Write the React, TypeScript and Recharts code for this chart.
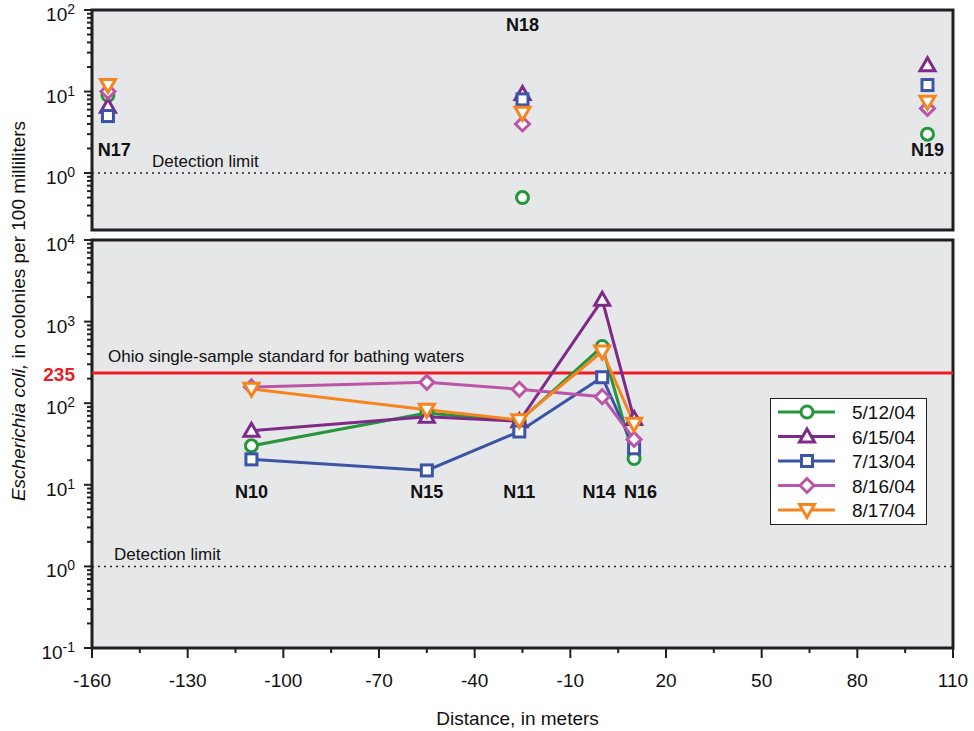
import React from 'react';
import {
  ComposedChart, Line, Scatter, XAxis, YAxis, ReferenceLine, ReferenceArea, ReferenceDot,
} from 'recharts';

// ---------- data ----------
const seriesNames = ['5/12/04', '6/15/04', '7/13/04', '8/16/04', '8/17/04'];
const seriesColors = ['#25963c', '#7f2a88', '#3b54a5', '#bc55a8', '#f6851f'];
const seriesMarkers = ['circle', 'up', 'square', 'diamond', 'down'];

// upper panel (stations N17, N18, N19)
const topStations = ['N17', 'N18', 'N19'];
const topDistance = [-155, -25, 102];
const top512 = [9, 0.5, 3];
const top615 = [6.5, 9.3, 21];
const top713 = [5, 8, 12];
const top816 = [10, 4, 6.2];
const top817 = [12, 5.5, 7.5];
const topLabelX = [-153, -25, 102];
const topLabelY = [1.9, 65, 1.93];

// lower panel (stations N10, N15, N11, N14, N16)
const botStations = ['N10', 'N15', 'N11', 'N14', 'N16'];
const botDistance = [-110, -55, -26, 0, 10];
const bot512 = [30, 76, 60, 495, 21];
const bot615 = [46, 68, 60, 1850, 64];
const bot713 = [20.5, 15, 45, 208, 28];
const bot816 = [158, 180, 148, 120, 36];
const bot817 = [150, 83, 62, 430, 56];
const botLabelX = [-110, -55, -26, -1, 12];
const botLabelY = [8.2, 8.2, 8.2, 8.2, 8.2];

const ohioStandard = 235;
const detectionLimit = 1;

const xMajorTicks = [-160, -130, -100, -70, -40, -10, 20, 50, 80, 110];
const xMinorTicks = [-145, -115, -85, -55, -25, 5, 35, 65, 95];

const FONT = '"Liberation Sans", Arial, Helvetica, sans-serif';
const BG = '#e6e7e8';
const FRAME = '#231f20';

const topValues = [top512, top615, top713, top816, top817];
const botValues = [bot512, bot615, bot713, bot816, bot817];

const makePts = (xs: number[], ys: number[]) => xs.map((x, i) => ({ x, y: ys[i] }));

function logTicks(minExp: number, maxExp: number) {
  const out: number[] = [];
  for (let e = minExp; e < maxExp; e++) {
    for (let m = 1; m <= 9; m++) {
      out.push(+(m * Math.pow(10, e)).toPrecision(6));
    }
  }
  out.push(Math.pow(10, maxExp));
  return out;
}

const topYTicks = [0.3, 0.4, 0.5, 0.6, 0.7, 0.8, 0.9, ...logTicks(0, 2)];
const botYTicks = [...logTicks(-1, 4), ohioStandard];

function isPow10(v: number) {
  const l = Math.log10(v);
  return Math.abs(l - Math.round(l)) < 1e-9;
}

// ---------- markers ----------
function Marker({ kind, cx, cy, color }: any) {
  if (cx == null || cy == null) return null;
  const common = { fill: '#fff', stroke: color, strokeWidth: 3 };
  switch (kind) {
    case 'circle':
      return <circle cx={cx} cy={cy} r={6} {...common} />;
    case 'up':
      return <polygon points={`${cx},${cy - 7.5} ${cx - 7.5},${cy + 5.5} ${cx + 7.5},${cy + 5.5}`} {...common} />;
    case 'down':
      return <polygon points={`${cx},${cy + 7.5} ${cx - 7.5},${cy - 5.5} ${cx + 7.5},${cy - 5.5}`} {...common} />;
    case 'square':
      return <rect x={cx - 5.5} y={cy - 5.5} width={11} height={11} {...common} />;
    case 'diamond':
      return <polygon points={`${cx},${cy - 7} ${cx + 7},${cy} ${cx},${cy + 7} ${cx - 7},${cy}`} {...common} />;
    default:
      return null;
  }
}

// ---------- ticks ----------
function YTick(props: any) {
  const { x, y, payload } = props;
  const v = payload.value;
  if (v === ohioStandard) {
    return (
      <text x={x - 17} y={y + 8} textAnchor="end" fill="#ed1c24" fontFamily={FONT} fontWeight="bold" fontSize={19}>
        {v}
      </text>
    );
  }
  const major = isPow10(v);
  const exp = Math.round(Math.log10(v));
  return (
    <g>
      <line x1={x - (major ? 8 : 5)} x2={x} y1={y} y2={y} stroke={FRAME} strokeWidth={2} />
      {major && (
        <text x={x - 17} y={y + 11} textAnchor="end" fill="#111" fontFamily={FONT} fontSize={19}>
          10
          <tspan fontSize={14} dy={-7}>{exp}</tspan>
        </text>
      )}
    </g>
  );
}

function XTick(props: any) {
  const { x, y, payload } = props;
  const v = payload.value;
  const major = xMajorTicks.includes(v);
  return (
    <g>
      <line x1={x} x2={x} y1={y} y2={y + (major ? 10 : 5)} stroke={FRAME} strokeWidth={2} />
      {major && (
        <text x={x} y={y + 39} textAnchor="middle" fill="#111" fontFamily={FONT} fontSize={19}>
          {v}
        </text>
      )}
    </g>
  );
}

const LineLabel = (dx: number, dy: number, text: string) => (props: any) => {
  const vb = props.viewBox || {};
  return (
    <text x={vb.x + dx} y={vb.y + dy} fill="#111" fontFamily={FONT} fontSize={17}>
      {text}
    </text>
  );
};

const StationLabel = (text: string) => (props: any) => (
  <text x={props.cx} y={props.cy + 6} textAnchor="middle" fontFamily={FONT} fontWeight="bold" fontSize={18} fill="#111">
    {text}
  </text>
);

const PLOT_W = 974;
const LEFT = 92;
const RIGHT = 21;

export default function App() {
  return (
    <div style={{ position: 'absolute', left: 0, top: 0, width: 974, height: 731, background: '#fff', fontFamily: FONT }}>
      {/* upper panel */}
      <div style={{ position: 'absolute', left: 0, top: 0 }}>
        <ComposedChart width={PLOT_W} height={240} margin={{ top: 10, right: RIGHT, bottom: 10, left: 0 }}>
          <XAxis dataKey="x" type="number" domain={[-160, 110]} hide allowDataOverflow />
          <YAxis
            dataKey="y" type="number" scale="log" domain={[0.2, 100]} allowDataOverflow width={LEFT}
            ticks={topYTicks} interval={0} tick={<YTick />} tickLine={false} axisLine={false}
            tickSize={0} tickMargin={0}
          />
          <ReferenceArea x1={-160} x2={110} y1={0.2} y2={100} fill={BG} fillOpacity={1} stroke={FRAME} strokeWidth={3} ifOverflow="visible" />
          <ReferenceLine y={detectionLimit} stroke="#222" strokeWidth={1.5} strokeDasharray="2 4" label={LineLabel(60, -6, 'Detection limit')} />
          {topStations.map((s, i) => (
            <ReferenceDot key={s} x={topLabelX[i]} y={topLabelY[i]} r={0} shape={StationLabel(s)} />
          ))}
          {seriesNames.map((name, si) => (
            <Scatter
              key={name}
              name={name}
              data={makePts(topDistance, topValues[si])}
              dataKey="y"
              isAnimationActive={false}
              shape={(p: any) => <Marker kind={seriesMarkers[si]} cx={p.cx} cy={p.cy} color={seriesColors[si]} />}
            />
          ))}
        </ComposedChart>
      </div>

      {/* lower panel */}
      <div style={{ position: 'absolute', left: 0, top: 220 }}>
        <ComposedChart width={PLOT_W} height={511} margin={{ top: 20, right: RIGHT, bottom: 0, left: 0 }}>
          <XAxis
            dataKey="x" type="number" domain={[-160, 110]} allowDataOverflow height={83}
            ticks={[...xMajorTicks, ...xMinorTicks].sort((a, b) => a - b)} interval={0}
            tick={<XTick />} tickLine={false} axisLine={false} tickSize={0} tickMargin={0}
            label={{ value: 'Distance, in meters', position: 'insideBottom', offset: 6, dx: -5, fontFamily: FONT, fontSize: 19, fill: '#111' }}
          />
          <YAxis
            dataKey="y" type="number" scale="log" domain={[0.1, 10000]} allowDataOverflow width={LEFT}
            ticks={botYTicks} interval={0} tick={<YTick />} tickLine={false} axisLine={false}
            tickSize={0} tickMargin={0}
          />
          <ReferenceArea x1={-160} x2={110} y1={0.1} y2={10000} fill={BG} fillOpacity={1} stroke={FRAME} strokeWidth={3} ifOverflow="visible" />
          <ReferenceLine y={detectionLimit} stroke="#222" strokeWidth={1.5} strokeDasharray="2 4" label={LineLabel(22, -6, 'Detection limit')} />
          <ReferenceLine y={ohioStandard} stroke="#ed1c24" strokeWidth={3} label={LineLabel(16, -11, 'Ohio single-sample standard for bathing waters')} />
          {botStations.map((s, i) => (
            <ReferenceDot key={s} x={botLabelX[i]} y={botLabelY[i]} r={0} shape={StationLabel(s)} />
          ))}
          {seriesNames.map((name, si) => (
            <Line
              key={name}
              name={name}
              data={makePts(botDistance, botValues[si])}
              dataKey="y"
              stroke={seriesColors[si]}
              strokeWidth={3}
              isAnimationActive={false}
              activeDot={false}
              dot={(p: any) => <Marker key={`${name}-${p.index}`} kind={seriesMarkers[si]} cx={p.cx} cy={p.cy} color={seriesColors[si]} />}
            />
          ))}
        </ComposedChart>
      </div>

      {/* y-axis title spanning both panels */}
      <svg style={{ position: 'absolute', left: 0, top: 0 }} width={40} height={731}>
        <text
          x={18} y={311} transform="rotate(-90 18 311)" textAnchor="middle" dominantBaseline="central"
          fontFamily={FONT} fontSize={19} fill="#111"
        >
          <tspan fontStyle="italic">Escherichia coli,</tspan>
          <tspan> in colonies per 100 milliliters</tspan>
        </text>
      </svg>

      {/* legend */}
      <svg style={{ position: 'absolute', left: 770, top: 398 }} width={160} height={130}>
        <rect x={0.5} y={0.5} width={156} height={126} fill="#fff" stroke="#222" strokeWidth={1} />
        {seriesNames.map((name, i) => {
          const cy = 14 + i * 24.5;
          return (
            <g key={name}>
              <line x1={8} x2={65} y1={cy} y2={cy} stroke={seriesColors[i]} strokeWidth={3} />
              <Marker kind={seriesMarkers[i]} cx={37} cy={cy} color={seriesColors[i]} />
              <text x={82} y={cy + 7} fontFamily={FONT} fontSize={19} fill="#111">{name}</text>
            </g>
          );
        })}
      </svg>
    </div>
  );
}
